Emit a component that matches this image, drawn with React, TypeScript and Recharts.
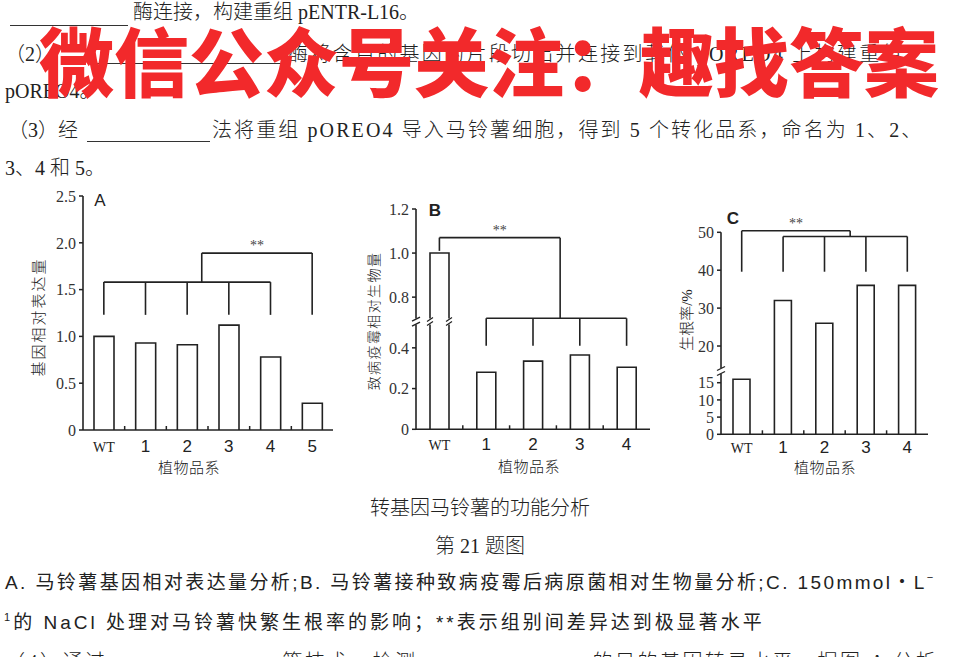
import React from 'react';
import { Bar, BarChart, ReferenceLine, XAxis, YAxis } from 'recharts';

const SERIF = '"Liberation Serif", "Times New Roman", "Noto Sans CJK SC", serif';
const SANS = '"Liberation Sans", Arial, "Noto Sans CJK SC", sans-serif';
const BODY = '"Liberation Serif", "Noto Sans CJK SC", serif';
const GOTHIC = '"Liberation Sans", "Noto Sans CJK SC", sans-serif';
const INK = '#222';

// A: relative expression of the gene
const LINES_A = ['WT', '1', '2', '3', '4', '5'];
const EXPR_A = [1.0, 0.93, 0.91, 1.12, 0.78, 0.285];
const TICKS_A = [0, 0.5, 1.0, 1.5, 2.0, 2.5];

// B: relative biomass of the pathogen
const LINES_B = ['WT', '1', '2', '3', '4'];
const BIOMASS_B = [1.0, 0.28, 0.335, 0.365, 0.305];
const TICKS_B = [0, 0.2, 0.4, 0.8, 1.0, 1.2];

// C: rooting rate (%)
const LINES_C = ['WT', '1', '2', '3', '4'];
const ROOTING_C = [16, 32, 26, 36, 36];
const TICKS_C = [0, 5, 10, 15, 20, 30, 40, 50];

// significance brackets: level of the bar, span, and feet [x, y] going down from it
type Bracket = { level: number; from: number; to: number; feet: [number, number][]; stars?: boolean };

const BRACKETS_A: Bracket[] = [
  { level: 1.58, from: 0, to: 4, feet: [[0, 1.23], [1, 1.23], [2, 1.23], [3, 1.23], [4, 1.23]] },
  { level: 1.89, from: 2.35, to: 5, feet: [[2.35, 1.58], [5, 1.23]], stars: true },
];
const BRACKETS_B: Bracket[] = [
  { level: 1.07, from: 0, to: 2.58, feet: [[0, 1.01], [2.58, 0.545]], stars: true },
  { level: 0.545, from: 1, to: 4, feet: [[1, 0.41], [2, 0.41], [3, 0.41], [4, 0.41]] },
];
const BRACKETS_C: Bracket[] = [
  { level: 50.4, from: 0, to: 2.62, feet: [[0, 39.6], [2.62, 48.9]], stars: true },
  { level: 48.9, from: 1, to: 4, feet: [[1, 39.6], [2, 39.6], [3, 39.6], [4, 39.6]] },
];

// broken axes: the part above the break is drawn with a larger unit
const linear = (v: number) => v;
const brokenB = (v: number) => (v <= 0.55 ? v : 0.649 + (v - 0.8) * 1.082);
const brokenC = (v: number) => (v <= 18.5 ? v : 25.67 + (v - 20) * 1.102);

const oneDecimal = (v: number) => (v === 0 ? '0' : v.toFixed(1));
const integer = (v: number) => String(v);

function BreakMark({ x, y }: { x: number; y: number }) {
  return (
    <g>
      <rect x={x - 3} y={y - 3} width={6} height={6} fill="#fff" />
      <line x1={x - 4} y1={y - 0.5} x2={x + 4} y2={y - 4.5} stroke={INK} strokeWidth={1.3} />
      <line x1={x - 4} y1={y + 4.5} x2={x + 4} y2={y + 0.5} stroke={INK} strokeWidth={1.3} />
    </g>
  );
}

function BarBox(props: any) {
  const { x, y, width, height, payload, breakAt } = props;
  const bottom = y + height;
  const right = x + width;
  const line = { fill: 'none', stroke: INK, strokeWidth: 1.6 };
  if (breakAt == null || payload.shown <= breakAt) {
    return <path d={`M${x},${bottom}V${y}H${right}V${bottom}`} fill="#fff" stroke={INK} strokeWidth={1.6} />;
  }
  const gy = bottom - (breakAt / payload.shown) * height;
  return (
    <g>
      <rect x={x} y={y} width={width} height={height} fill="#fff" />
      <path d={`M${x},${bottom}V${gy + 3}M${x},${gy - 3}V${y}H${right}V${gy - 3}M${right},${gy + 3}V${bottom}`} {...line} />
      <path d={`M${x - 3},${gy}L${x + 3},${gy - 4}M${x - 3},${gy + 4}L${x + 3},${gy}`} {...line} strokeWidth={1.2} />
      <path d={`M${right - 3},${gy}L${right + 3},${gy - 4}M${right - 3},${gy + 4}L${right + 3},${gy}`} {...line} strokeWidth={1.2} />
    </g>
  );
}

type PanelProps = {
  box: { left: number; top: number; width: number; height: number };
  margin: { top: number; right: number; bottom: number; left: number };
  yWidth: number;
  names: string[];
  values: number[];
  ticks: number[];
  fmt: (v: number) => string;
  scale: (v: number) => number;
  breakAt?: number;
  breakBar?: boolean;
  brackets: Bracket[];
  barSize: number;
  labelDy: number;
};

function Panel(p: PanelProps) {
  const n = p.names.length;
  const rows = p.names.map((name, i) => ({ pos: i, name, value: p.values[i], shown: p.scale(p.values[i]) }));
  const xTicks = [...p.names.map((_, i) => i), ...p.names.slice(1).map((_, i) => i + 0.5)];
  const yTicks = p.ticks.map(p.scale);
  if (p.breakAt != null) yTicks.push(p.breakAt);

  const renderXTick = (t: any) => {
    const { x, y, payload } = t;
    const v = payload.value;
    if (!Number.isInteger(v)) {
      return <line x1={x} x2={x} y1={y} y2={y - 4} stroke={INK} strokeWidth={1.5} />;
    }
    const name = p.names[v];
    const wt = name === 'WT';
    return (
      <text x={x} y={y + p.labelDy} textAnchor="middle" fontFamily={wt ? SERIF : SANS}
        fontSize={wt ? 14 : 17} fill="#222">{name}</text>
    );
  };

  const renderYTick = (t: any) => {
    const { x, y, payload } = t;
    const i = p.ticks.findIndex((v) => Math.abs(p.scale(v) - payload.value) < 1e-6);
    if (i < 0) return <BreakMark x={x} y={y} />;
    return (
      <g>
        <line x1={x - 4} x2={x} y1={y} y2={y} stroke={INK} strokeWidth={1.5} />
        <text x={x - 7} y={y} dy="0.36em" textAnchor="end" fontFamily={SERIF} fontSize={16} fill="#333">
          {p.fmt(p.ticks[i])}
        </text>
      </g>
    );
  };

  const marks = p.brackets.flatMap((b, bi) => [
    <ReferenceLine
      key={`h${bi}`}
      segment={[{ x: b.from, y: p.scale(b.level) }, { x: b.to, y: p.scale(b.level) }]}
      stroke={INK}
      strokeWidth={1.6}
      ifOverflow="visible"
      label={b.stars ? { value: '**', position: 'top', fill: '#444', fontSize: 14, fontFamily: SERIF, offset: 3 } : undefined}
    />,
    ...b.feet.map(([fx, fy], fi) => (
      <ReferenceLine
        key={`v${bi}-${fi}`}
        segment={[{ x: fx, y: p.scale(fy) }, { x: fx, y: p.scale(b.level) }]}
        stroke={INK}
        strokeWidth={1.6}
        ifOverflow="visible"
      />
    )),
  ]);

  return (
    <div style={{ position: 'absolute', left: p.box.left, top: p.box.top }}>
      <BarChart width={p.box.width} height={p.box.height} data={rows} margin={p.margin}>
        <XAxis
          type="number"
          dataKey="pos"
          domain={[-0.5, n - 0.5]}
          allowDataOverflow
          ticks={xTicks}
          interval={0}
          tickLine={false}
          tickSize={0}
          tickMargin={0}
          height={30}
          axisLine={{ stroke: INK, strokeWidth: 1.6 }}
          tick={renderXTick}
        />
        <YAxis
          type="number"
          domain={[0, p.scale(p.ticks[p.ticks.length - 1])]}
          allowDataOverflow
          ticks={yTicks}
          interval={0}
          tickLine={false}
          tickSize={0}
          tickMargin={0}
          width={p.yWidth}
          axisLine={{ stroke: INK, strokeWidth: 1.6 }}
          tick={renderYTick}
        />
        <Bar
          dataKey="shown"
          barSize={p.barSize}
          isAnimationActive={false}
          shape={(b: any) => <BarBox {...b} breakAt={p.breakBar ? p.breakAt : undefined} />}
        />
        {marks}
      </BarChart>
    </div>
  );
}

type TextProps = {
  x: number;
  y: number;
  size?: number;
  spacing?: number;
  font?: string;
  weight?: number;
  color?: string;
  center?: boolean;
  rotate?: boolean;
  children: React.ReactNode;
};

function Txt({ x, y, size = 20, spacing = 0, font = BODY, weight = 300, color = '#222', center, rotate, children }: TextProps) {
  let transform = 'translateY(-50%)';
  if (center) transform = 'translate(-50%, -50%)';
  if (rotate) transform = 'translate(-50%, -50%) rotate(-90deg)';
  return (
    <div
      style={{
        position: 'absolute', left: x, top: y, transform, fontSize: size, letterSpacing: spacing,
        fontFamily: font, fontWeight: weight, lineHeight: 1, whiteSpace: 'nowrap', color,
      }}
    >
      {children}
    </div>
  );
}

function Blank({ x1, x2, y }: { x1: number; x2: number; y: number }) {
  return <div style={{ position: 'absolute', left: x1, top: y, width: x2 - x1, height: 1.3, background: '#333' }} />;
}

export default function App() {
  return (
    <div
      style={{
        position: 'absolute', left: 0, top: 0, width: 957, height: 657, overflow: 'hidden',
        background: '#fff', color: '#222',
      }}
    >
      {/* question text */}
      <Blank x1={10} x2={128} y={25} />
      <Txt x={133} y={12} size={20}>酶连接，构建重组 pENTR-L16。</Txt>
      <Txt x={5} y={54} size={20}>（2）</Txt>
      <Blank x1={96} x2={284} y={63} />
      <Txt x={288} y={54} size={20} spacing={2.3}>酶将含目的基因的片段切出并连接到载体 pOREO4 上构建重组</Txt>
      <Txt x={5} y={91} size={20}>pOREO4。</Txt>
      <Txt x={8} y={130} size={20}>（3）经</Txt>
      <Blank x1={87} x2={210} y={141} />
      <Txt x={212} y={130} size={20} spacing={2.1}>法将重组 pOREO4 导入马铃薯细胞，得到 5 个转化品系，命名为 1、2、</Txt>
      <Txt x={5} y={168} size={20}>3、4 和 5。</Txt>

      {/* watermark */}
      <Txt x={39} y={58} size={75} font='"Noto Sans CJK SC", sans-serif' weight={900} color="#f2292b">
        微信公众号关注：趣找答案
      </Txt>

      {/* three panels */}
      <Panel
        box={{ left: 0, top: 180, width: 345, height: 300 }}
        margin={{ top: 16, right: 12, bottom: 20, left: 0 }}
        yWidth={83}
        names={LINES_A}
        values={EXPR_A}
        ticks={TICKS_A}
        fmt={oneDecimal}
        scale={linear}
        brackets={BRACKETS_A}
        barSize={20}
        labelDy={22}
      />
      <Panel
        box={{ left: 340, top: 190, width: 320, height: 290 }}
        margin={{ top: 19, right: 10, bottom: 20.7, left: 0 }}
        yWidth={76}
        names={LINES_B}
        values={BIOMASS_B}
        ticks={TICKS_B}
        fmt={oneDecimal}
        scale={brokenB}
        breakAt={0.529}
        breakBar
        brackets={BRACKETS_B}
        barSize={19}
        labelDy={21}
      />
      <Panel
        box={{ left: 660, top: 200, width: 297, height: 280 }}
        margin={{ top: 32.3, right: 29, bottom: 15.7, left: 0 }}
        yWidth={61}
        names={LINES_C}
        values={ROOTING_C}
        ticks={TICKS_C}
        fmt={integer}
        scale={brokenC}
        breakAt={18.4}
        brackets={BRACKETS_C}
        barSize={17}
        labelDy={19}
      />

      {/* panel letters and axis titles */}
      <Txt x={100} y={200} size={17} font={SANS} weight={400} center>A</Txt>
      <Txt x={435} y={210} size={17} font={SANS} weight={700} center>B</Txt>
      <Txt x={733} y={218} size={17} font={SANS} weight={700} center>C</Txt>
      <Txt x={39} y={317} size={15} spacing={2} rotate>基因相对表达量</Txt>
      <Txt x={375} y={321} size={14} spacing={1.4} rotate>致病疫霉相对生物量</Txt>
      <Txt x={687} y={320} size={15} rotate>生根率/%</Txt>
      <Txt x={189} y={468} size={15} spacing={0.5} center>植物品系</Txt>
      <Txt x={529} y={467} size={15} spacing={0.5} center>植物品系</Txt>
      <Txt x={825} y={468} size={15} spacing={0.5} center>植物品系</Txt>

      {/* figure captions */}
      <Txt x={480} y={508} size={20} center>转基因马铃薯的功能分析</Txt>
      <Txt x={480} y={546} size={20} center>第 21 题图</Txt>
      <Txt x={5} y={582} size={19} spacing={2.4} font={GOTHIC} weight={400}>
        A. 马铃薯基因相对表达量分析;B. 马铃薯接种致病疫霉后病原菌相对生物量分析;C. 150mmol・L<sup style={{ fontSize: 11 }}>−</sup>
      </Txt>
      <Txt x={4} y={622} size={19} spacing={3} font={GOTHIC} weight={400}>
        <sup style={{ fontSize: 11 }}>1</sup>的 NaCl 处理对马铃薯快繁生根率的影响；**表示组别间差异达到极显著水平
      </Txt>
      <Txt x={5} y={662} size={20} spacing={2.5}>（4）通过______________等技术，检测______________的目的基因转录水平，据图 A 分析，只有转</Txt>
    </div>
  );
}
